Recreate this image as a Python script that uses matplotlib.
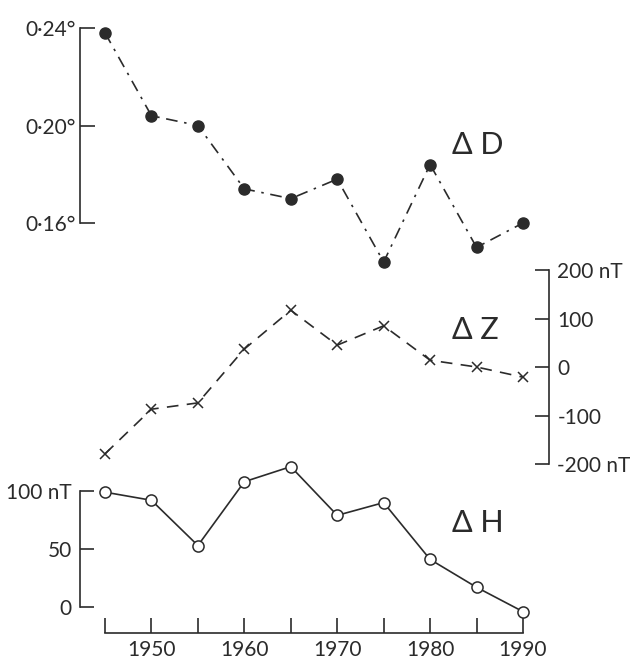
import matplotlib.pyplot as plt

plt.rcParams['font.family'] = ['Lato', 'DejaVu Sans']

years = [1945, 1950, 1955, 1960, 1965, 1970, 1975, 1980, 1985, 1990]
delta_d = [0.238, 0.204, 0.200, 0.174, 0.170, 0.178, 0.144, 0.184, 0.150, 0.160]
delta_z = [-179, -87, -74, 37, 117, 45, 85, 14, 0, -21]
delta_h = [99, 92, 53, 108, 121, 79, 90, 41, 17, -4]

d_ticks = [0.16, 0.20, 0.24]
d_labels = ['0·16°', '0·20°', '0·24°']
z_ticks = [-200, -100, 0, 100, 200]
z_labels = ['-200 nT', '-100', '0', '100', '200 nT']
h_ticks = [0, 50, 100]
h_labels = ['0', '50', '100 nT']
x_labels = ['', '1950', '', '1960', '', '1970', '', '1980', '', '1990']

W, H = 637, 663
TOP, BOT, LEFT, RIGHT = 10, 633, 80, 549
INK = '#2b2b2b'


def lims(v_a, px_a, v_b, px_b):
    # value range for the shared axes box, given two reference pixel rows
    per = (v_a - v_b) / (px_b - px_a)
    return v_b - (BOT - px_b) * per, v_a + (px_a - TOP) * per


fig = plt.figure(figsize=(W / 100, H / 100), dpi=100)
rect = [LEFT / W, 1 - BOT / H, (RIGHT - LEFT) / W, (BOT - TOP) / H]
ax_h = fig.add_axes(rect)
ax_z = fig.add_axes(rect)
ax_d = fig.add_axes(rect)

px_per_year = (523 - 105) / 45
xlim = (1945 - (105 - LEFT) / px_per_year, 1945 + (RIGHT - 105) / px_per_year)

for ax in (ax_h, ax_z, ax_d):
    ax.set_xlim(*xlim)
    ax.patch.set_alpha(0)
    for s in ax.spines.values():
        s.set_visible(False)
        s.set_color(INK)
        s.set_linewidth(1.2)

# ΔH (bottom, with year axis)
ax_h.set_ylim(*lims(100, 491, 0, 607))
ax_h.plot(years, delta_h, '-', color=INK, lw=1.2, marker='o', ms=8,
          mfc='white', mec=INK, mew=1.1, zorder=3)
ax_h.spines['left'].set_visible(True)
ax_h.spines['left'].set_bounds(0, 100)
ax_h.spines['bottom'].set_visible(True)
ax_h.spines['bottom'].set_bounds(1945, 1990)
ax_h.set_yticks(h_ticks, labels=h_labels)
ax_h.set_xticks(years, labels=x_labels)
ax_h.tick_params(axis='y', direction='in', length=10, width=1.2, color=INK,
                 pad=6, labelsize=15, labelcolor=INK)
ax_h.tick_params(axis='x', direction='in', length=11, width=1.2, color=INK,
                 pad=5, labelsize=15, labelcolor=INK)

# ΔZ (middle, right scale)
ax_z.set_ylim(*lims(200, 270, -200, 464))
ax_z.plot(years, delta_z, color=INK, lw=1.2, linestyle=(0, (7, 5)),
          marker='x', ms=7, mew=1.1, zorder=3)
ax_z.spines['right'].set_visible(True)
ax_z.spines['right'].set_bounds(-200, 200)
ax_z.yaxis.tick_right()
ax_z.set_yticks(z_ticks, labels=z_labels)
ax_z.set_xticks([])
ax_z.tick_params(axis='y', direction='in', length=10, width=1.2, color=INK,
                 pad=6, labelsize=15, labelcolor=INK)

# ΔD (top, degrees)
ax_d.set_ylim(*lims(0.24, 28, 0.16, 223))
ax_d.plot(years, delta_d, color=INK, lw=1.2, linestyle=(0, (7, 4, 1.5, 4)),
          marker='o', ms=8, mfc=INK, mec=INK, zorder=3)
ax_d.spines['left'].set_visible(True)
ax_d.spines['left'].set_bounds(0.16, 0.24)
ax_d.set_yticks(d_ticks, labels=d_labels)
ax_d.set_xticks([])
ax_d.tick_params(axis='y', direction='in', length=11, width=1.2, color=INK,
                 pad=3, labelsize=15, labelcolor=INK)

# series names
for name, ypx in (('Δ D', 145), ('Δ Z', 330), ('Δ H', 523)):
    fig.text(452 / W, 1 - ypx / H, name, fontsize=22, color=INK,
             ha='left', va='center')

fig.savefig('out.png', dpi=100)
